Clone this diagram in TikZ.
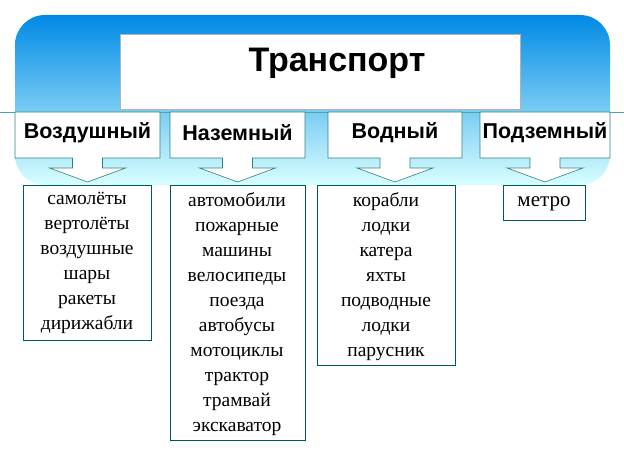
\documentclass[tikz,border=0pt]{standalone}
\usepackage{fontspec}
\setmainfont{Liberation Serif}
\newfontfamily\hd{Liberation Sans}
\begin{document}
\begin{tikzpicture}[x=1pt,y=-1pt,
  lst/.style={draw=teal!70!black,fill=white,line width=0.6pt,anchor=north west,inner sep=0pt},
  txt/.style={align=center,font=\fontsize{19.5}{25}\selectfont,anchor=north,inner sep=0pt},
  cat/.style={font=\hd\bfseries\fontsize{21.5}{24}\selectfont}]
\useasboundingbox (0,0) rectangle (624,468);
\fill[white] (0,0) rectangle (624,468);
\shade[top color=cyan!60!blue!90!black,bottom color=cyan!15,rounded corners=30] (15,15) rectangle (610,185);
\draw[teal!70,line width=1pt] (0,113) -- (624,113);
\node[draw=gray!60,fill=white,minimum width=400,minimum height=75,anchor=north west,inner sep=0] (t) at (120,34) {};
\node[font=\hd\bfseries\fontsize{34}{36}\selectfont] at (337,63) {Транспорт};
\foreach \n/\a/\b/\lab in {c1/15/160/Воздушный,c2/170/305/Наземный,c3/328/462/Водный,c4/480/610/Подземный}{
  \pgfmathsetmacro\m{(\a+\b)/2}
  \draw[draw=teal!60!gray,fill=white,line width=0.6pt] (\a,112) -- (\b,112) -- (\b,158) -- (\m+15,158) -- (\m+15,168) -- (\m+38,168) -- (\m,182) -- (\m-38,168) -- (\m-15,168) -- (\m-15,158) -- (\a,158) -- cycle;
  \node[cat] (\n) at (\m,133) {\lab};
}
\node[lst,minimum width=128,minimum height=155] (l1) at (23,185) {};
\node[txt] at (87,192) {самолёты\\вертолёты\\воздушные\\шары\\ракеты\\дирижабли};
\node[lst,minimum width=135,minimum height=255] (l2) at (170,185) {};
\node[txt] at (237,192) {автомобили\\пожарные\\машины\\велосипеды\\поезда\\автобусы\\мотоциклы\\трактор\\трамвай\\экскаватор};
\node[lst,minimum width=138,minimum height=180] (l3) at (317,185) {};
\node[txt] at (386,192) {корабли\\лодки\\катера\\яхты\\подводные\\лодки\\парусник};
\node[lst,minimum width=82,minimum height=35] (l4) at (503,185) {};
\node[font=\fontsize{21}{24}\selectfont] at (544,204) {метро};
\end{tikzpicture}
\end{document}
